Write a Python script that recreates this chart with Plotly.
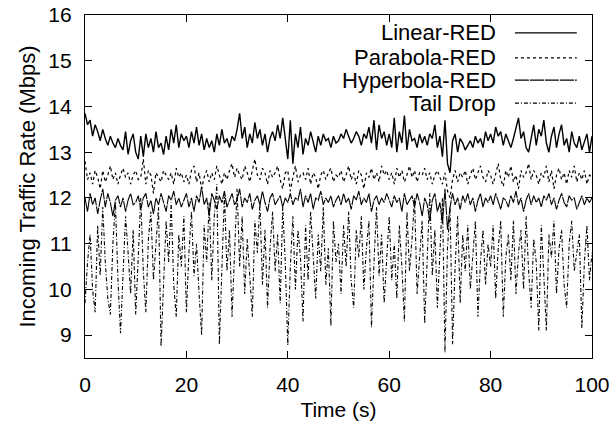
import plotly.graph_objects as go

linear_red = [
    13.85, 13.6, 13.7, 13.35, 13.6, 13.45, 13.25, 13.5, 13.3, 13.15, 13.35, 13.2, 13.1, 13.3, 13.15, 13.05, 13.45, 12.95, 13.25, 13.4,
    13.0, 12.85, 13.35, 12.9, 13.4, 13.1, 13.3, 13.0, 13.45, 13.1, 13.2, 12.95, 13.35, 13.05, 13.5, 13.2, 13.6, 13.1, 13.4, 13.25,
    13.35, 13.1, 13.45, 13.2, 13.55, 13.15, 13.4, 13.05, 13.3, 13.1, 13.25, 13.0, 13.4, 13.15, 13.5, 13.2, 13.3, 13.1, 13.35, 13.25,
    13.5, 13.85, 13.3, 13.55, 13.1, 13.4, 13.2, 13.65, 13.3, 13.5, 13.15, 13.4, 13.0, 13.3, 13.45, 13.25, 13.6, 13.3, 13.75, 13.35,
    12.85, 13.7, 12.75, 13.4, 13.1, 13.55, 12.95, 13.3, 13.15, 13.45, 13.2, 13.0, 13.35, 13.15, 13.4, 13.25, 13.3, 13.1, 13.35, 13.2,
    13.25, 13.4, 13.3, 13.5, 13.35, 13.2, 13.3, 13.45, 13.35, 13.15, 13.4, 13.3, 13.55, 13.2, 13.7, 13.05, 13.6, 13.3, 13.45, 13.15,
    13.4, 13.1, 13.75, 13.0, 13.45, 13.2, 13.8, 13.05, 13.5, 13.25, 13.3, 13.1, 13.4, 13.2, 13.35, 13.15, 13.4, 13.3, 13.6, 13.1,
    13.35, 12.9, 13.7, 12.75, 12.55, 13.25, 13.4, 13.0, 13.3, 13.2, 13.05, 13.15, 13.25, 13.1, 13.35, 13.2, 13.3, 13.1, 13.45, 13.25,
    13.4, 13.2, 13.55, 13.35, 13.45, 13.15, 13.4, 13.25, 13.1, 13.3, 13.5, 13.75, 13.3, 13.45, 13.1, 13.0, 13.3, 13.6, 13.15, 13.5,
    13.35, 13.7, 13.2, 13.0, 13.35, 13.55, 13.1, 13.4, 13.6, 13.15, 13.3, 13.0, 13.45, 13.2, 13.1, 13.35, 13.05, 13.25, 13.4, 13.0,
    13.35,
]

parabola_red = [
    12.8, 12.4, 12.55, 12.3, 12.6, 12.45, 12.2, 12.6, 12.35, 12.5, 12.7, 12.4, 12.55, 12.3, 12.5, 12.65, 12.45, 12.55, 12.3, 12.5,
    12.6, 12.4, 12.45, 12.85, 12.3, 12.6, 12.5, 12.1, 12.55, 12.45, 12.35, 12.6, 12.5, 12.4, 12.55, 12.3, 12.65, 12.45, 12.55, 12.35,
    12.5, 12.3, 12.6, 12.7, 12.35, 12.55, 12.2, 12.45, 12.6, 12.35, 12.55, 12.4, 12.7, 12.5, 12.3, 12.55, 12.4, 12.6, 12.75, 12.45,
    12.65, 12.5, 12.4, 12.7, 12.55, 12.35, 12.6, 12.85, 12.5, 12.4, 12.65, 12.55, 12.3, 12.6, 12.45, 12.55, 12.7, 12.4, 12.2, 12.55,
    12.6, 12.15, 12.45, 12.7, 12.35, 12.5, 12.55, 12.4, 12.65, 12.3, 12.55, 12.45, 12.2, 12.5, 12.6, 12.4, 12.55, 12.65, 12.35, 12.5,
    12.45, 12.6, 12.35, 12.5, 12.7, 12.4, 12.55, 12.3, 12.6, 12.5, 12.2, 12.55, 12.45, 12.65, 12.4, 12.55, 12.35, 12.7, 12.5, 12.6,
    12.4, 12.55, 12.3, 12.65, 12.45, 12.6, 12.35, 12.5, 12.7, 12.45, 12.6, 12.35, 12.55, 12.5, 12.65, 12.4, 12.55, 12.3, 12.5, 12.6,
    12.45, 12.3, 12.55, 12.15, 12.0, 12.4, 12.6, 12.35, 12.55, 12.45, 12.6, 12.3, 12.5, 12.65, 12.4, 12.55, 12.7, 12.45, 12.35, 12.6,
    12.5, 12.3, 12.55, 12.75, 12.4, 12.25, 12.6, 12.45, 12.7, 12.35, 12.5, 12.2, 12.6, 12.45, 12.55, 12.75, 12.4, 12.6, 12.5, 12.3,
    12.55, 12.45, 12.7, 12.35, 12.6, 12.2, 12.5, 12.65, 12.4, 12.55, 12.3, 12.6, 12.45, 12.7, 12.35, 12.55, 12.4, 12.6, 12.3, 12.5,
    12.45,
]

hyperbola_red = [
    12.0, 11.7, 12.1, 11.85, 12.0, 11.65, 11.95, 12.2, 11.8, 12.1, 11.9, 11.6, 11.95, 12.05, 11.8, 12.0, 11.7, 11.95, 12.1, 11.85,
    11.9, 12.05, 11.75, 12.0, 12.1, 11.8, 11.95, 11.65, 12.0, 11.85, 12.1, 11.9, 11.7, 12.05, 11.95, 12.15, 11.85, 12.0, 11.8, 11.95,
    12.1, 11.8, 12.0, 11.7, 12.05, 11.9, 12.25, 11.85, 12.0, 11.6, 12.1, 11.95, 11.75, 12.05, 11.9, 12.15, 11.8, 11.95, 12.1, 11.85,
    11.95, 12.2, 11.8, 12.0, 11.9, 12.1, 11.75, 11.95, 12.05, 11.85, 12.15, 11.9, 11.7, 12.0, 12.1, 11.85, 11.95, 12.05, 11.8, 12.0,
    11.9, 12.1, 11.85, 12.0, 11.95, 12.2, 11.8, 12.05, 11.9, 12.1, 11.75, 12.0, 11.95, 12.15, 11.85, 12.0, 11.9, 12.05, 11.8, 11.95,
    12.05, 11.85, 12.1, 11.9, 12.0, 11.75, 12.05, 11.95, 12.15, 11.85, 12.0, 11.9, 12.1, 11.7, 11.95, 12.05, 11.85, 12.0, 11.9, 12.1,
    11.95, 11.8, 12.05, 11.9, 12.0, 11.7, 12.1, 11.85, 11.95, 12.05, 11.8, 12.1, 11.9, 11.6, 12.0, 11.85, 11.5, 11.95, 12.1, 11.7,
    11.9, 11.45, 12.2, 11.3, 11.8, 12.1, 11.85, 12.0, 11.75, 12.05, 11.9, 12.1, 11.85, 12.0, 11.7, 11.95, 12.1, 11.8, 12.0, 11.9,
    12.05, 11.85, 12.1, 11.9, 11.75, 12.0, 11.95, 11.8, 12.05, 11.9, 12.15, 11.85, 12.0, 11.7, 11.95, 12.1, 11.85, 12.05, 11.9, 12.0,
    11.8, 12.05, 11.95, 12.1, 11.85, 12.0, 11.75, 11.95, 12.1, 11.9, 11.8, 12.05, 11.95, 12.0, 11.75, 11.9, 12.05, 11.85, 12.0, 11.9,
    12.0,
]

tail_drop = [
    9.7, 10.6, 11.2, 10.0, 9.5, 11.4, 10.3, 11.8, 10.6, 9.8, 9.45, 11.0, 11.9, 10.2, 9.04, 10.5, 11.6, 10.8, 9.9, 11.3,
    9.45, 10.7, 12.0, 10.4, 9.5, 11.1, 11.7, 10.2, 10.9, 11.8, 8.75, 10.3, 11.5, 10.6, 11.9, 10.1, 9.4, 11.2, 10.5, 11.6,
    9.5, 10.8, 11.7, 10.3, 11.0, 9.9, 9.0, 11.4, 10.6, 11.9, 10.2, 11.6, 12.3, 8.8, 10.7, 12.1, 10.4, 11.3, 9.4, 11.0,
    12.2, 10.5, 11.6, 9.9, 11.1, 10.3, 9.4, 11.5, 10.8, 11.9, 10.1, 11.3, 9.6, 10.9, 11.7, 10.4, 11.2, 9.7, 11.8, 10.6,
    8.78, 10.5, 11.6, 10.0, 11.3, 10.7, 9.3, 11.4, 10.2, 11.7, 10.6, 9.8, 11.2, 10.4, 11.8, 10.1, 10.9, 9.2, 11.5, 10.6,
    11.0, 9.9, 11.4, 10.5, 11.7, 10.2, 9.6, 11.3, 10.7, 11.6, 10.0, 10.9, 11.5, 9.17, 10.6, 11.8, 10.3, 11.2, 9.7, 10.8,
    11.6, 10.2, 11.0, 9.8, 11.4, 10.5, 9.3, 11.7, 10.4, 11.1, 12.0, 9.9, 10.8, 11.5, 9.25, 10.7, 12.1, 10.3, 11.3, 9.6,
    11.0, 12.0, 8.62, 10.9, 11.8, 8.8, 10.5, 11.6, 9.7, 11.2, 10.4, 11.4, 10.0, 10.8, 11.5, 9.4, 10.6, 11.3, 10.1, 11.0,
    10.5, 11.4, 9.8, 10.9, 11.5, 9.4, 10.7, 11.2, 10.2, 11.5, 9.9, 10.8, 11.3, 10.0, 11.6, 10.4, 9.6, 11.1, 10.6, 9.1,
    11.4, 10.3, 9.1, 11.2, 10.7, 11.5, 9.9, 10.9, 11.3, 10.1, 9.6, 11.0, 11.5, 10.4, 10.8, 11.2, 9.15, 10.6, 11.4, 10.2,
    10.8,
]

time_s = [i * 0.5 for i in range(len(linear_red))]

series_names = ["Linear-RED", "Parabola-RED", "Hyperbola-RED", "Tail Drop"]
series_values = [linear_red, parabola_red, hyperbola_red, tail_drop]
series_dash = ["solid", "dot", "14px,1px", "4px,2px,1px,2px"]
series_width = [1.4, 1.2, 1.1, 1.1]

x_ticks = [0, 20, 40, 60, 80, 100]
y_ticks = [9, 10, 11, 12, 13, 14, 15, 16]

FONT = "Liberation Sans, Arial, Helvetica, sans-serif"
FS = 21

fig = go.Figure()
for name, vals, dash, w in zip(series_names, series_values, series_dash, series_width):
    fig.add_trace(go.Scatter(x=time_s, y=vals, mode="lines", name=name,
                             line=dict(color="black", width=w, dash=dash),
                             showlegend=False))

# gnuplot-style key: text right-aligned, sample line to its right
key_y = [0.948, 0.875, 0.810, 0.743]
for name, dash, w, ky in zip(series_names, series_dash, series_width, key_y):
    fig.add_annotation(x=0.815, y=ky, xref="paper", yref="paper", text=name,
                       showarrow=False, xanchor="right", yanchor="middle",
                       font=dict(family=FONT, size=22, color="black"))
    fig.add_shape(type="line", xref="paper", yref="paper",
                  x0=0.848, x1=0.970, y0=ky, y1=ky,
                  line=dict(color="black", width=w, dash=dash))

axis_common = dict(showgrid=False, zeroline=False, showline=True, mirror="allticks",
                   linecolor="black", linewidth=1.4, ticks="inside", ticklen=7,
                   tickcolor="black", tickwidth=1, automargin=False,
                   ticklabeloverflow="allow",
                   tickfont=dict(family=FONT, size=FS, color="black"))

fig.update_layout(
    width=614, height=433,
    margin=dict(l=85, r=22, t=15, b=75),
    paper_bgcolor="white", plot_bgcolor="white",
    font=dict(family=FONT, color="black"),
    xaxis=dict(range=[0, 100], tickvals=x_ticks, ticklabelstandoff=8,
               title=dict(text="Time (s)", font=dict(family=FONT, size=FS), standoff=6),
               **axis_common),
    yaxis=dict(range=[8.5, 16], tickvals=y_ticks, ticklabelstandoff=8,
               title=dict(text="Incoming Traffic Rate (Mbps)", font=dict(family=FONT, size=22), standoff=6),
               **axis_common),
)

fig.write_html("out.html", config={"displayModeBar": False},
               post_script="document.body.style.margin='0';document.body.style.padding='0';")
